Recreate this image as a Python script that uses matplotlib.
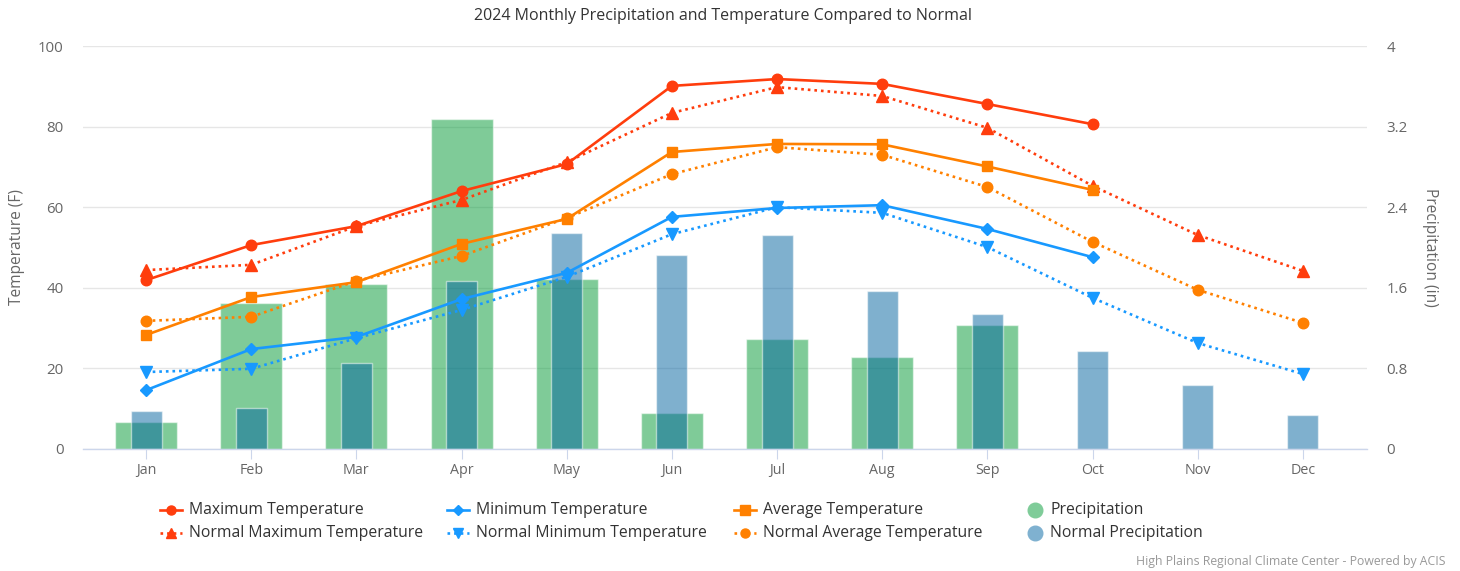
import matplotlib
matplotlib.use("Agg")
import matplotlib.pyplot as plt
from matplotlib.lines import Line2D
import numpy as np

plt.rcParams['font.family'] = ['Open Sans', 'DejaVu Sans']

months = ["Jan", "Feb", "Mar", "Apr", "May", "Jun", "Jul", "Aug", "Sep", "Oct", "Nov", "Dec"]

max_temp = [41.9, 50.6, 55.3, 64.0, 70.7, 90.1, 91.8, 90.6, 85.6, 80.6]
normal_max_temp = [44.4, 45.7, 55.3, 61.8, 71.2, 83.4, 89.8, 87.6, 79.7, 65.3, 53.1, 44.2]
min_temp = [14.6, 24.8, 27.8, 37.2, 43.7, 57.6, 59.8, 60.5, 54.6, 47.6]
normal_min_temp = [19.1, 19.9, 27.5, 34.5, 42.7, 53.3, 60.0, 58.6, 50.1, 37.5, 26.3, 18.6]
avg_temp = [28.3, 37.7, 41.4, 50.9, 57.1, 73.7, 75.7, 75.6, 70.1, 64.3]
normal_avg_temp = [31.8, 32.8, 41.7, 47.9, 57.3, 68.2, 74.9, 73.0, 65.0, 51.4, 39.5, 31.3]
precip = [0.27, 1.45, 1.64, 3.28, 1.69, 0.36, 1.09, 0.91, 1.23]
normal_precip = [0.38, 0.41, 0.85, 1.67, 2.14, 1.93, 2.12, 1.57, 1.34, 0.97, 0.64, 0.34]

temp_ticks = [0, 20, 40, 60, 80, 100]
precip_ticks = [0, 0.8, 1.6, 2.4, 3.2, 4]
precip_tick_labels = ["0", "0.8", "1.6", "2.4", "3.2", "4"]

W, H = 1460, 571
fig = plt.figure(figsize=(W / 100, H / 100), dpi=100)
fig.patch.set_facecolor("white")

L, R, T, B = 83, 1367, 46, 449
ax_t = fig.add_axes([L / W, 1 - B / H, (R - L) / W, (B - T) / H])
ax_p = ax_t.twinx()

ax_t.set_zorder(ax_p.get_zorder() + 1)
ax_t.patch.set_visible(False)

x = np.arange(len(months))

# Bars (precipitation axis)
ax_p.bar(x[:len(precip)], precip, width=0.59, color="#009933", alpha=0.5,
         edgecolor="white", linewidth=1, zorder=2)
ax_p.bar(x, normal_precip, width=0.295, color="#00629F", alpha=0.5,
         edgecolor="white", linewidth=1, zorder=3)

ax_p.set_ylim(0, 4)
ax_p.set_yticks(precip_ticks)
ax_p.set_yticklabels(precip_tick_labels)
ax_p.grid(axis="y", color="#e6e6e6", linewidth=1)
ax_p.set_axisbelow(True)

# Lines (temperature axis)
red = "#ff3d0d"
orange = "#ff8000"
blue = "#1899ff"
lw = 1.9
dot = (0, (1, 1.5))

ax_t.plot(x[:len(max_temp)], max_temp, color=red, lw=lw, marker="o", ms=7.6, zorder=5)
ax_t.plot(x, normal_max_temp, color=red, lw=lw, ls=dot, marker="^", ms=8, zorder=4)
ax_t.plot(x[:len(min_temp)], min_temp, color=blue, lw=lw, marker="D", ms=5.8, zorder=5)
ax_t.plot(x, normal_min_temp, color=blue, lw=lw, ls=dot, marker="v", ms=8, zorder=4)
ax_t.plot(x[:len(avg_temp)], avg_temp, color=orange, lw=lw, marker="s", ms=7.4, zorder=5)
ax_t.plot(x, normal_avg_temp, color=orange, lw=lw, ls=dot, marker="o", ms=7.6, zorder=4)

ax_t.set_ylim(0, 100)
ax_t.set_yticks(temp_ticks)
ax_t.set_xlim(-0.6, 11.61)
ax_t.set_xticks(x)
ax_t.set_xticklabels(months)

for a in (ax_t, ax_p):
    for s in a.spines.values():
        s.set_visible(False)
ax_t.spines["bottom"].set_visible(True)
ax_t.spines["bottom"].set_color("#ccd6eb")
ax_t.spines["bottom"].set_linewidth(1)

ax_t.tick_params(axis="x", length=7, width=0.8, color="#ccd6eb", pad=3,
                 labelsize=10.3, labelcolor="#666666")
ax_t.tick_params(axis="y", length=0, pad=14, labelsize=10.8, labelcolor="#666666")
ax_p.tick_params(axis="y", length=0, pad=14, labelsize=10.8, labelcolor="#666666")
ax_p.tick_params(axis="x", length=0)

fig.text(17 / W, 1 - 247 / H, "Temperature (F)", rotation=90, ha="center", va="center",
         fontsize=11.2, color="#666666")
fig.text(1430 / W, 1 - 247 / H, "Precipitation (in)", rotation=-90, ha="center", va="center",
         fontsize=11.2, color="#666666")

fig.text(723 / W, 1 - 16 / H, "2024 Monthly Precipitation and Temperature Compared to Normal",
         ha="center", va="center", fontsize=11.5, color="#333333")

fig.text(1445 / W, 1 - 561 / H, "High Plains Regional Climate Center - Powered by ACIS",
         ha="right", va="center", fontsize=8.8, color="#999999")

# Legend (manual layout)
entries = [
    (160, 510, "Maximum Temperature", red, "-", "o", 6.5),
    (160, 533, "Normal Maximum Temperature", red, dot, "^", 7),
    (447, 510, "Minimum Temperature", blue, "-", "D", 5.2),
    (447, 533, "Normal Minimum Temperature", blue, dot, "v", 7),
    (734, 510, "Average Temperature", orange, "-", "s", 6.5),
    (734, 533, "Normal Average Temperature", orange, dot, "o", 6.5),
]
for (lx, ly, label, c, ls, mk, ms) in entries:
    yy = 1 - ly / H
    fig.add_artist(Line2D([lx / W, (lx + 22) / W], [yy, yy], color=c, lw=lw, ls=ls,
                          transform=fig.transFigure))
    fig.add_artist(Line2D([(lx + 11) / W], [yy], color=c, marker=mk, ms=ms, ls="none",
                          transform=fig.transFigure))
    fig.text((lx + 29) / W, yy, label, ha="left", va="center", fontsize=11.3, color="#333333")

for (lx, ly, label, c) in [(1035, 510, "Precipitation", "#7fcc99"),
                           (1035, 533, "Normal Precipitation", "#7fb1d0")]:
    yy = 1 - ly / H
    fig.add_artist(Line2D([lx / W], [yy], color=c, marker="o", ms=10.5, ls="none",
                          transform=fig.transFigure))
    fig.text((lx + 15) / W, yy, label, ha="left", va="center", fontsize=11.3, color="#333333")

fig.savefig("out.png", dpi=100, facecolor="white")
